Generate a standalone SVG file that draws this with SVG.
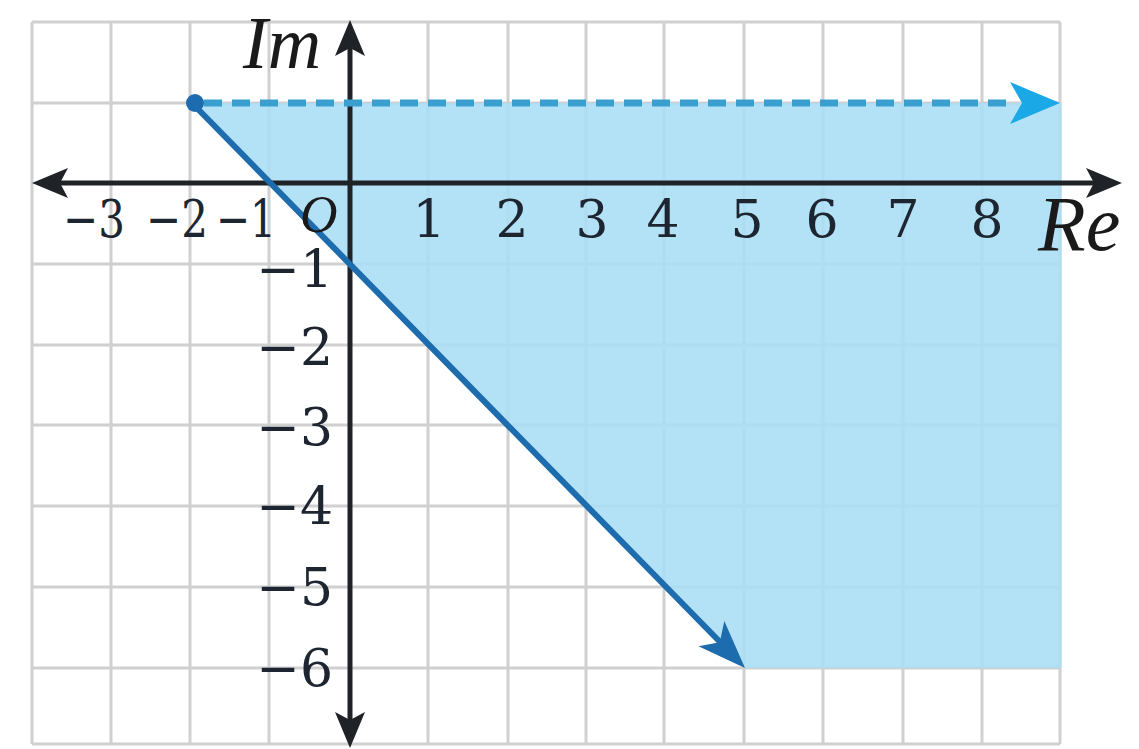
<svg xmlns="http://www.w3.org/2000/svg" width="1139" height="749" viewBox="0 0 1139 749">
<style>
.gl{stroke:#d0d0d0;stroke-width:3}
.axis{stroke:#1f2328;stroke-width:5;fill:none}
.num{font-size:52px;fill:#1d2630}
.xl{text-anchor:middle}
.yl{text-anchor:end}
.var{font-style:italic;fill:#1a1a1a}
</style>
<defs>
<marker id="axhead" markerUnits="userSpaceOnUse" viewBox="0 0 36 32" refX="26" refY="16" markerWidth="36" markerHeight="32" orient="auto-start-reverse">
<path d="M0,1 L36,16 L0,31 L8,16 Z" fill="#1f2328"/>
</marker>
</defs>
<rect width="1139" height="749" fill="#ffffff"/>
<g id="grid">
<line class="gl" x1="32" y1="22" x2="32" y2="744"/>
<line class="gl" x1="111" y1="22" x2="111" y2="744"/>
<line class="gl" x1="190" y1="22" x2="190" y2="744"/>
<line class="gl" x1="269" y1="22" x2="269" y2="744"/>
<line class="gl" x1="428" y1="22" x2="428" y2="744"/>
<line class="gl" x1="508" y1="22" x2="508" y2="744"/>
<line class="gl" x1="586" y1="22" x2="586" y2="744"/>
<line class="gl" x1="664" y1="22" x2="664" y2="744"/>
<line class="gl" x1="744" y1="22" x2="744" y2="744"/>
<line class="gl" x1="823" y1="22" x2="823" y2="744"/>
<line class="gl" x1="903" y1="22" x2="903" y2="744"/>
<line class="gl" x1="982" y1="22" x2="982" y2="744"/>
<line class="gl" x1="1060" y1="22" x2="1060" y2="744"/>
<line class="gl" x1="32" y1="22" x2="1060" y2="22"/>
<line class="gl" x1="32" y1="103" x2="1060" y2="103"/>
<line class="gl" x1="32" y1="264" x2="1060" y2="264"/>
<line class="gl" x1="32" y1="345" x2="1060" y2="345"/>
<line class="gl" x1="32" y1="425" x2="1060" y2="425"/>
<line class="gl" x1="32" y1="506" x2="1060" y2="506"/>
<line class="gl" x1="32" y1="587" x2="1060" y2="587"/>
<line class="gl" x1="32" y1="668" x2="1060" y2="668"/>
<line class="gl" x1="32" y1="744" x2="1060" y2="744"/>
</g>
<g id="region">
<polygon points="192,103 1061.5,103 1061.5,668 745,668" fill="#a9ddf5" fill-opacity="0.88"/>
</g>
<g id="axes">
<line class="axis" x1="42" y1="183" x2="1112" y2="183" marker-start="url(#axhead)" marker-end="url(#axhead)"/>
<line class="axis" x1="350" y1="30" x2="350" y2="738" marker-start="url(#axhead)" marker-end="url(#axhead)"/>
</g>
<g id="connectors">
<line x1="204" y1="103" x2="1016" y2="103" stroke="#3a9fcf" stroke-width="7" stroke-dasharray="18 10"/>
<path d="M1010,82 L1060,103 L1010,124 L1022,103 Z" fill="#1aa8e6"/>
<line x1="192" y1="103" x2="722" y2="644" stroke="#1d6cae" stroke-width="6"/>
<path d="M745,668 L698.5,646.3 L719.8,642.3 L724.3,621.1 Z" fill="#1d6cae"/>
</g>
<g id="start-point">
<circle cx="195" cy="103" r="9" fill="#1e6cb0"/>
</g>
<g id="axis-names" font-family="Liberation Serif, serif">
<text class="var" x="243" y="68" font-size="74">Im</text>
<text class="var" x="1038" y="250" font-size="78">Re</text>
<text class="var" x="300" y="232" font-size="52">O</text>
</g>
<g id="tick-labels" font-family="DejaVu Serif, serif">
<text class="num xl" x="94" y="237" textLength="62" lengthAdjust="spacingAndGlyphs">−3</text>
<text class="num xl" x="177" y="237" textLength="62" lengthAdjust="spacingAndGlyphs">−2</text>
<text class="num xl" x="246" y="237" textLength="60" lengthAdjust="spacingAndGlyphs">−1</text>
<text class="num xl" x="429" y="237">1</text>
<text class="num xl" x="512" y="237">2</text>
<text class="num xl" x="592" y="237">3</text>
<text class="num xl" x="663" y="237">4</text>
<text class="num xl" x="747" y="237">5</text>
<text class="num xl" x="822" y="237">6</text>
<text class="num xl" x="903" y="237">7</text>
<text class="num xl" x="987" y="237">8</text>
<text class="num yl" x="333" y="287">−1</text>
<text class="num yl" x="333" y="365">−2</text>
<text class="num yl" x="333" y="445">−3</text>
<text class="num yl" x="333" y="524">−4</text>
<text class="num yl" x="333" y="605">−5</text>
<text class="num yl" x="333" y="686">−6</text>
</g>
</svg>
